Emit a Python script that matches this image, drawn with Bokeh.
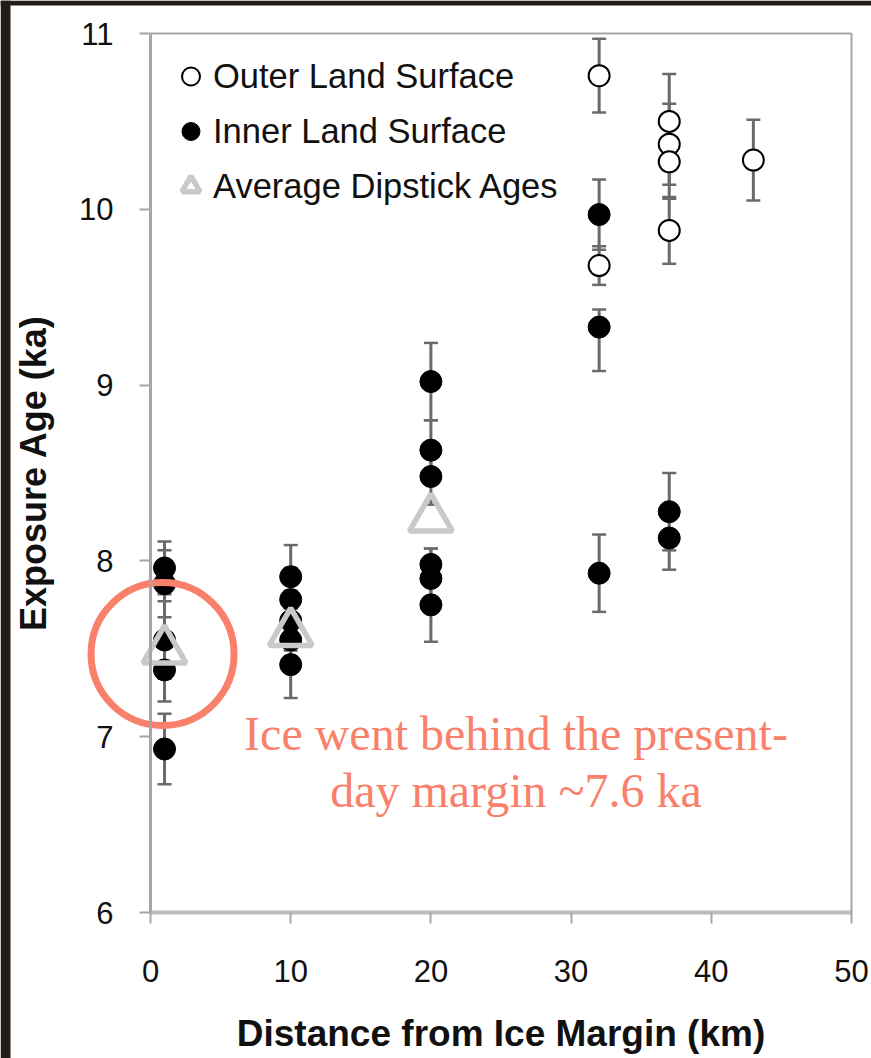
from bokeh.plotting import figure
from bokeh.models import (ColumnDataSource, Whisker, TeeHead, Legend, LegendItem,
                          Label, FixedTicker, LinearAxis, BoxAnnotation, Range1d)
from bokeh.embed import file_html
from bokeh.resources import INLINE

# ---------------- data ----------------
x_ticks = [0, 10, 20, 30, 40, 50]
y_ticks = [6, 7, 8, 9, 10, 11]
x_lim = (0, 50)
y_lim = (6, 11)

outer_x = [32, 32, 37, 37, 37, 37, 43]
outer_y = [10.76, 9.68, 10.50, 10.37, 10.27, 9.88, 10.28]
outer_err_lo = [0.21, 0.11, 0.27, 0.23, 0.21, 0.19, 0.23]
outer_err_hi = [0.21, 0.11, 0.27, 0.23, 0.21, 0.19, 0.23]

inner_x = [1, 1, 1, 1, 1,
           10, 10, 10, 10, 10,
           20, 20, 20, 20, 20, 20,
           32, 32, 32,
           37, 37]
inner_y = [7.96, 7.87, 7.55, 7.38, 6.93,
           7.91, 7.78, 7.66, 7.55, 7.41,
           9.02, 8.63, 8.48, 7.98, 7.90, 7.75,
           9.97, 9.33, 7.93,
           8.28, 8.13]
inner_err_lo = [0.15, 0.19, 0.22, 0.18, 0.20,
                0.18, 0.18, 0.17, 0.18, 0.19,
                0.22, 0.17, 0.16, 0.09, 0.17, 0.21,
                0.20, 0.25, 0.22,
                0.22, 0.18]
inner_err_hi = [0.15, 0.19, 0.22, 0.18, 0.20,
                0.18, 0.18, 0.17, 0.18, 0.19,
                0.22, 0.17, 0.16, 0.09, 0.17, 0.21,
                0.20, 0.10, 0.22,
                0.22, 0.18]

avg_x = [1, 10, 20]
avg_y = [7.49, 7.59, 8.24]

series_names = ["Outer Land Surface", "Inner Land Surface", "Average Dipstick Ages"]
note_lines = ["Ice went behind the present-", "day margin ~7.6 ka"]
note_center = (0.86, 7.47)
note_text_x = 26.07
note_text_y = [7.02, 6.695]

# ---------------- layout ----------------
W, H = 871, 1058
PLOT_L, PLOT_R, PLOT_T, PLOT_B = 150, 851, 33, 912   # plot-area box on the canvas
px_x = (PLOT_R - PLOT_L) / (x_lim[1] - x_lim[0])
px_y = (PLOT_B - PLOT_T) / (y_lim[1] - y_lim[0])
x_range = Range1d(x_lim[0] - PLOT_L / px_x, x_lim[1] + (W - PLOT_R) / px_x)
y_range = Range1d(y_lim[0] - (H - PLOT_B) / px_y, y_lim[1] + PLOT_T / px_y)

RING_D = 143
SALMON = "#F9806A"
ERR = "#6a6a6a"
DARK = "#221d14"
FRAME_GREY = "#a6a6a6"

# The frame covers the whole canvas so the annotation ring is not clipped;
# axes are pinned at the plot-area edges with fixed_location.
p = figure(width=W, height=H, x_range=x_range, y_range=y_range,
           output_backend="svg", toolbar_location=None,
           min_border_left=0, min_border_right=0,
           min_border_top=0, min_border_bottom=0)
p.background_fill_color = "white"
p.border_fill_color = "white"
p.outline_line_color = None
p.xgrid.visible = False
p.ygrid.visible = False

# dark edges of the original screenshot
p.add_layout(BoxAnnotation(bottom=y_range.end - 5 / px_y, fill_color=DARK,
                           fill_alpha=1, line_color=None, level="overlay"))
p.add_layout(BoxAnnotation(right=x_range.start + 10 / px_x, fill_color=DARK,
                           fill_alpha=1, line_color=None, level="overlay"))


def err_source(xs, ys, lo, hi):
    return ColumnDataSource(dict(
        x=xs, y=ys,
        lower=[v - e for v, e in zip(ys, lo)],
        upper=[v + e for v, e in zip(ys, hi)]))

src_outer = err_source(outer_x, outer_y, outer_err_lo, outer_err_hi)
src_inner = err_source(inner_x, inner_y, inner_err_lo, inner_err_hi)

for src in (src_outer, src_inner):
    w = Whisker(base="x", lower="lower", upper="upper", source=src,
                line_color=ERR, line_width=3,
                upper_head=TeeHead(size=14, line_color=ERR, line_width=2.5),
                lower_head=TeeHead(size=14, line_color=ERR, line_width=2.5))
    p.add_layout(w)

r_outer = p.scatter("x", "y", source=src_outer, marker="circle", size=21,
                    fill_color="white", line_color="black", line_width=2)
r_inner = p.scatter("x", "y", source=src_inner, marker="circle", size=22,
                    fill_color="black", line_color="black", line_width=1)
r_avg = p.scatter(avg_x, avg_y, marker="triangle", size=43,
                  fill_color=None, line_color="#c9c9c9", line_width=5.5)

# annotation ring
p.ellipse(x=[note_center[0]], y=[note_center[1]], width=RING_D, height=RING_D,
          width_units="screen", height_units="screen",
          fill_color=None, line_color=SALMON, line_width=7)

for txt, ty in zip(note_lines, note_text_y):
    p.add_layout(Label(x=note_text_x, y=ty, text=txt, text_align="center",
                       text_baseline="alphabetic", text_color=SALMON,
                       text_font="Liberation Serif", text_font_size="48px"))

LEG_PAD, LEG_ROW, LEG_SP = 10, 50, 5
leg_h = 2 * LEG_PAD + 3 * LEG_ROW + 2 * LEG_SP
legend = Legend(items=[LegendItem(label=series_names[0], renderers=[r_outer]),
                       LegendItem(label=series_names[1], renderers=[r_inner]),
                       LegendItem(label=series_names[2], renderers=[r_avg])],
                location=(PLOT_L + 18, H - PLOT_T - leg_h + 2),
                background_fill_alpha=0,
                border_line_color=None, margin=0, padding=LEG_PAD, spacing=LEG_SP,
                glyph_width=45, glyph_height=LEG_ROW, label_height=LEG_ROW,
                label_standoff=0, label_text_font="Liberation Sans",
                label_text_font_size="34.5px", label_text_color="#111111",
                label_text_baseline="middle")
p.add_layout(legend)

# main axes pinned to the plot-area edges
for ax in (p.xaxis[0], p.yaxis[0]):
    ax.minor_tick_line_color = None
    ax.major_tick_in = 0
    ax.major_tick_out = 11
    ax.major_label_text_font = "Liberation Sans"
    ax.major_label_text_font_size = "31px"
    ax.major_label_text_color = "#111111"
    ax.axis_label_text_font = "Liberation Sans"
    ax.axis_label_text_font_style = "bold"
    ax.axis_label_text_color = "#111111"

p.xaxis.fixed_location = y_lim[0]
p.xaxis.bounds = x_lim
p.yaxis.fixed_location = x_lim[0]
p.yaxis.bounds = y_lim
p.xaxis.ticker = FixedTicker(ticks=x_ticks)
p.yaxis.ticker = FixedTicker(ticks=y_ticks)
p.xaxis.axis_label = "Distance from Ice Margin (km)"
p.yaxis.axis_label = "Exposure Age (ka)"
p.xaxis.axis_label_text_font_size = "37px"
p.yaxis.axis_label_text_font_size = "36px"

p.xaxis.axis_line_color = "#bcbcbc"
p.xaxis.axis_line_width = 4
p.xaxis.major_tick_line_color = FRAME_GREY
p.xaxis.major_tick_line_width = 2
p.xaxis.major_label_standoff = 36
p.xaxis.axis_label_standoff = 28

p.yaxis.axis_line_color = FRAME_GREY
p.yaxis.axis_line_width = 3
p.yaxis.major_tick_line_color = FRAME_GREY
p.yaxis.major_tick_line_width = 2
p.yaxis.major_label_standoff = 26
p.yaxis.axis_label_standoff = 22

# top and right border of the plot area
top_axis = LinearAxis(fixed_location=y_lim[1], bounds=x_lim, ticker=FixedTicker(ticks=[]),
                      axis_line_color=FRAME_GREY, axis_line_width=2,
                      major_tick_line_color=None, minor_tick_line_color=None)
right_axis = LinearAxis(fixed_location=x_lim[1], bounds=y_lim, ticker=FixedTicker(ticks=[]),
                        axis_line_color=FRAME_GREY, axis_line_width=2,
                        major_tick_line_color=None, minor_tick_line_color=None)
p.add_layout(top_axis, "above")
p.add_layout(right_axis, "right")

open("out.html", "w").write(file_html(p, INLINE))
